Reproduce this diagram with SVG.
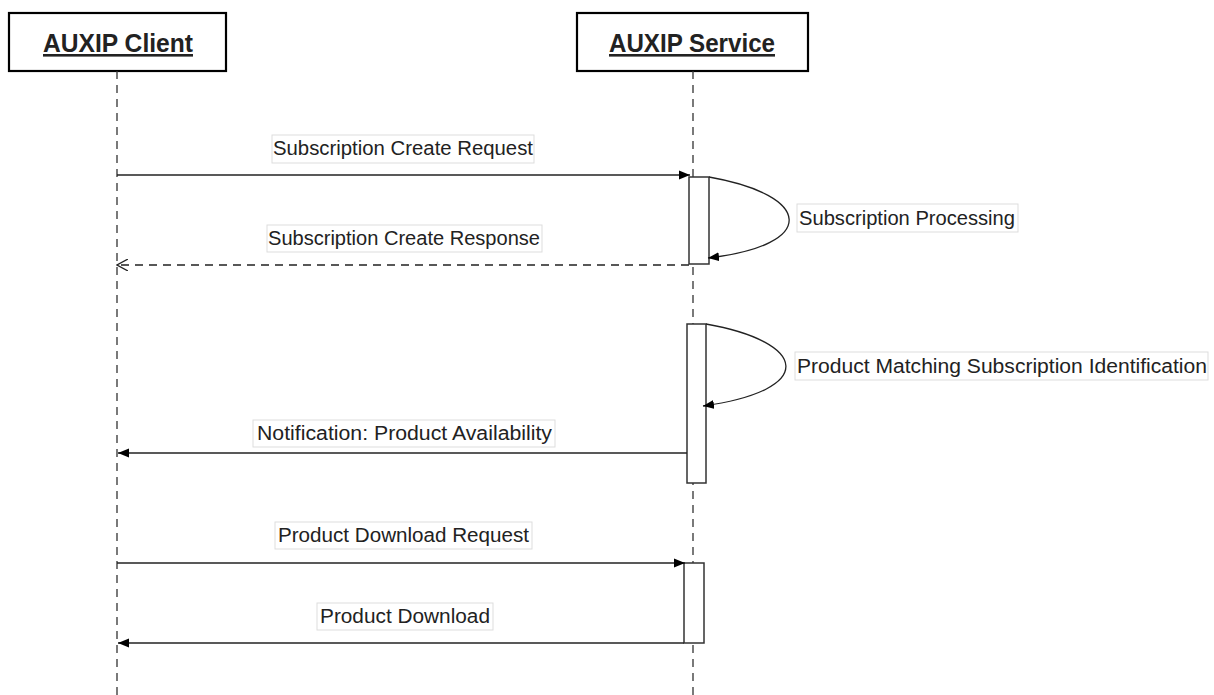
<svg xmlns="http://www.w3.org/2000/svg" width="1214" height="695" viewBox="0 0 1214 695">
<defs>
<marker id="fill" viewBox="0 0 11 10" refX="11" refY="5" markerWidth="11" markerHeight="10" markerUnits="userSpaceOnUse" orient="auto">
<path d="M0,0.5 L11,5 L0,9.5 Z" fill="#000"/>
</marker>
<marker id="open" viewBox="0 0 12 12" refX="11" refY="6" markerWidth="12" markerHeight="12" markerUnits="userSpaceOnUse" orient="auto">
<path d="M0,0 L11,6 L0,12" fill="none" stroke="#222" stroke-width="1.3"/>
</marker>
</defs>
<style>
.actor{fill:#fff;stroke:#000;stroke-width:2.2}
.title{font-family:"Liberation Sans",Arial,sans-serif;font-weight:bold;font-size:26px;text-decoration:underline;fill:#222}
.life{stroke:#333;stroke-width:1.3;stroke-dasharray:8,6;fill:none}
.act{fill:#fff;stroke:#333;stroke-width:1.5}
.msg{stroke:#222;stroke-width:1.3;fill:none}
.dash{stroke-dasharray:8,6}
.lbox{fill:#fff;stroke:#ddd;stroke-width:1}
.lbl{font-family:"Liberation Sans",Arial,sans-serif;font-size:20px;fill:#222}
</style>
<rect width="1214" height="695" fill="#fff"/>
<g id="client">
<rect class="actor" x="9" y="13" width="217" height="58"/>
<text class="title" x="118" y="52" text-anchor="middle" textLength="150" lengthAdjust="spacingAndGlyphs">AUXIP Client</text>
</g>
<g id="service">
<rect class="actor" x="577" y="13" width="231" height="58"/>
<text class="title" x="692" y="52" text-anchor="middle" textLength="166" lengthAdjust="spacingAndGlyphs">AUXIP Service</text>
</g>
<g id="lifelines">
<line class="life" x1="117" y1="71" x2="117" y2="695"/>
<line class="life" x1="693" y1="71" x2="693" y2="695"/>
</g>
<g id="activation1"><rect class="act" x="689" y="177" width="20" height="87"/></g>
<g id="activation2"><rect class="act" x="687" y="324" width="19" height="159"/></g>
<g id="activation3"><rect class="act" x="684" y="563" width="20" height="80"/></g>
<g id="connectors">
<line class="msg" x1="117" y1="175" x2="690" y2="175" marker-end="url(#fill)"/>
<path class="msg" d="M709,177 C812,195 820,245 708,258" marker-end="url(#fill)"/>
<line class="msg dash" x1="689" y1="265" x2="117" y2="265" marker-end="url(#open)"/>
<path class="msg" d="M706,324 C808,342 818,390 703,406" marker-end="url(#fill)"/>
<line class="msg" x1="687" y1="453" x2="118" y2="453" marker-end="url(#fill)"/>
<line class="msg" x1="117" y1="563" x2="685" y2="563" marker-end="url(#fill)"/>
<line class="msg" x1="684" y1="643" x2="118" y2="643" marker-end="url(#fill)"/>
</g>
<g id="labels">
<rect class="lbox" x="272" y="135" width="262" height="28"/>
<text class="lbl" x="273" y="155" textLength="260" lengthAdjust="spacingAndGlyphs">Subscription Create Request</text>
<rect class="lbox" x="267" y="225" width="275" height="27"/>
<text class="lbl" x="268" y="245" textLength="272" lengthAdjust="spacingAndGlyphs">Subscription Create Response</text>
<rect class="lbox" x="797" y="204" width="221" height="28"/>
<text class="lbl" x="799" y="225" textLength="216" lengthAdjust="spacingAndGlyphs">Subscription Processing</text>
<rect class="lbox" x="795" y="352" width="413" height="28"/>
<text class="lbl" x="797" y="373" textLength="410" lengthAdjust="spacingAndGlyphs">Product Matching Subscription Identification</text>
<rect class="lbox" x="253" y="420" width="302" height="27"/>
<text class="lbl" x="257" y="440" textLength="295" lengthAdjust="spacingAndGlyphs">Notification: Product Availability</text>
<rect class="lbox" x="275" y="522" width="257" height="27"/>
<text class="lbl" x="278" y="542" textLength="251" lengthAdjust="spacingAndGlyphs">Product Download Request</text>
<rect class="lbox" x="317" y="603" width="176" height="27"/>
<text class="lbl" x="320" y="623" textLength="170" lengthAdjust="spacingAndGlyphs">Product Download</text>
</g>
</svg>
